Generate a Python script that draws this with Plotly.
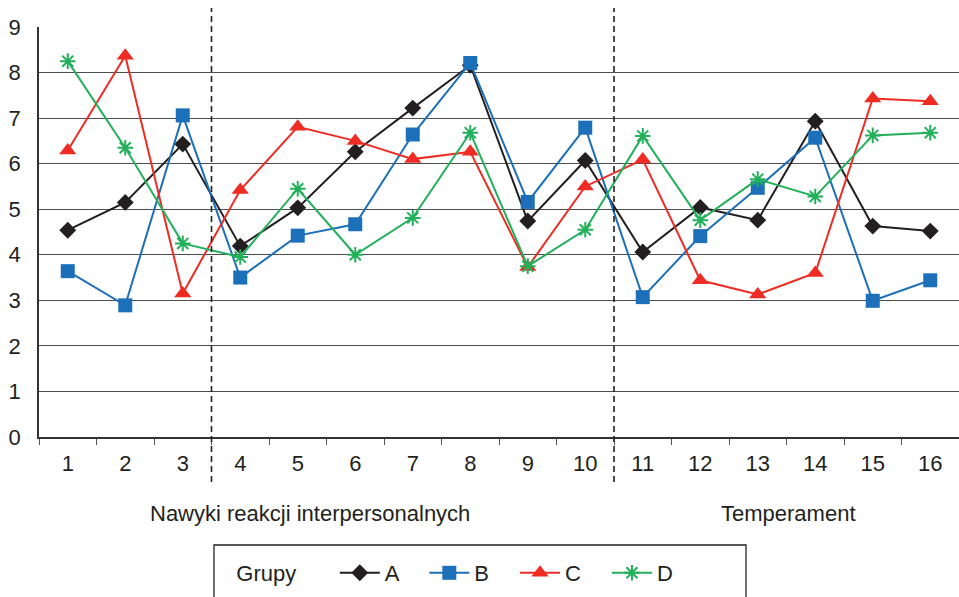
import plotly.graph_objects as go

# Item numbers on the horizontal axis
categories = [str(i) for i in range(1, 17)]

# Mean scores per group
group_a = [4.54, 5.15, 6.43, 4.19, 5.03, 6.26, 7.22, 8.16, 4.74, 6.07, 4.06, 5.04, 4.76, 6.93, 4.63, 4.52]
group_b = [3.64, 2.89, 7.06, 3.50, 4.42, 4.67, 6.64, 8.21, 5.16, 6.79, 3.07, 4.41, 5.47, 6.57, 2.99, 3.44]
group_c = [6.29, 8.37, 3.15, 5.42, 6.81, 6.50, 6.10, 6.26, 3.73, 5.50, 6.09, 3.44, 3.13, 3.60, 7.43, 7.37]
group_d = [8.25, 6.35, 4.25, 3.95, 5.45, 4.00, 4.81, 6.68, 3.75, 4.55, 6.61, 4.76, 5.66, 5.28, 6.62, 6.68]

series_names = ["A", "B", "C", "D"]
section_labels = ["Nawyki reakcji interpersonalnych", "Temperament"]
legend_title = "Grupy"
y_ticks = list(range(0, 10))

W, H = 959, 597
ML, MR, MT, MB = 39, 0, 27, 160
plot_h = H - MT - MB
plot_w = W - ML - MR

def px_to_paper_y(py):
    return (H - MB - py) / plot_h

def px_to_paper_x(px):
    return (px - ML) / plot_w

font_family = "Liberation Sans, Arial, sans-serif"
text_col = "#231f20"
FS = 22

styles = [
    dict(color="#231f20", symbol="diamond", size=13, lw=0),
    dict(color="#1c6fb9", symbol="square", size=14, lw=0),
    dict(color="#ee2c24", symbol="triangle-up", size=15, lw=0),
    dict(color="#22b05a", symbol="asterisk-open", size=13, lw=2),
]

fig = go.Figure()
for name, vals, st in zip(series_names, [group_a, group_b, group_c, group_d], styles):
    marker = dict(symbol=st["symbol"], size=st["size"], color=st["color"])
    if st["lw"]:
        marker["line"] = dict(color=st["color"], width=st["lw"])
    fig.add_trace(go.Scatter(
        x=categories, y=vals, name=name + "  \u2009\u2009", mode="lines+markers",
        line=dict(color=st["color"], width=2), marker=marker,
    ))

# Dashed separators between questionnaire sections
for xb in [2.5, 9.5]:
    fig.add_shape(type="line", xref="x", yref="paper",
                  x0=xb, x1=xb, y0=px_to_paper_y(482), y1=px_to_paper_y(8),
                  line=dict(color="#231f20", width=1.6, dash="6px,4px"))

# Frame around the legend, running off the bottom edge
fig.add_shape(type="rect", xref="paper", yref="paper",
              x0=px_to_paper_x(214), x1=px_to_paper_x(746),
              y0=px_to_paper_y(545), y1=px_to_paper_y(610),
              line=dict(color="#231f20", width=1.3), fillcolor="rgba(0,0,0,0)")

# Section titles under the axis
for label, cx in zip(section_labels, [310, 788]):
    fig.add_annotation(text=label, xref="paper", yref="paper",
                       x=px_to_paper_x(cx), y=px_to_paper_y(513),
                       xanchor="center", yanchor="middle",
                       showarrow=False, font=dict(size=FS, color=text_col, family=font_family))

fig.update_layout(
    width=W, height=H,
    margin=dict(l=ML, r=MR, t=MT, b=MB),
    paper_bgcolor="white", plot_bgcolor="white",
    font=dict(family=font_family, size=FS, color=text_col),
    showlegend=True,
    legend=dict(
        orientation="h", x=px_to_paper_x(216), y=px_to_paper_y(552),
        xanchor="left", yanchor="top",
        title=dict(text="   " + legend_title + "     ", side="left", font=dict(size=FS)),
        bgcolor="rgba(0,0,0,0)", borderwidth=0,
        font=dict(size=FS, color=text_col),
        itemwidth=40, tracegroupgap=0,
    ),
)

fig.update_xaxes(
    type="category", tickson="boundaries",
    ticks="outside", ticklen=6, tickcolor="#555",
    showline=True, linecolor="#333", linewidth=1.5,
    showgrid=False, ticklabelstandoff=6,
    tickfont=dict(size=FS), range=[-0.5, 15.5],
)
fig.update_yaxes(
    range=[0, 9], tickvals=y_ticks,
    showgrid=True, gridcolor="#4d4d4d", gridwidth=1,
    showline=True, linecolor="#333", linewidth=1.5,
    ticks="", zeroline=False, ticklabelstandoff=12,
    tickfont=dict(size=FS),
)

fig.write_html("out.html")
